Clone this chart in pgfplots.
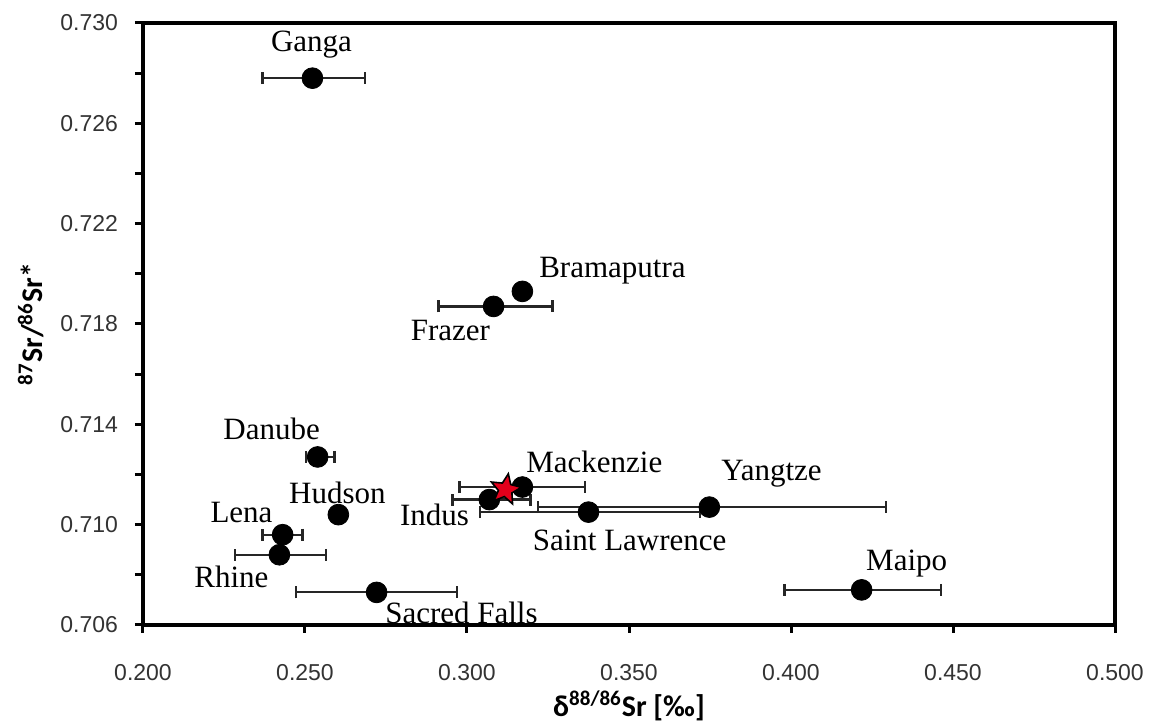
\documentclass[border=0pt]{standalone}
\usepackage{fontspec}
\setmainfont{Liberation Serif}
\newfontfamily\ticksfont{Liberation Sans}
\newfontfamily\labfont{Carlito}
\usepackage{pgfplots}
\pgfplotsset{compat=1.18}
\definecolor{starred}{RGB}{227,0,27}
\newcommand\lf{\fontsize{15.5}{18}\selectfont}
\pgfdeclareplotmark{fstar}{%
  \pgfpathmoveto{\pgfpointpolar{80}{\pgfplotmarksize}}%
  \pgfpathlineto{\pgfpointpolar{116}{0.45\pgfplotmarksize}}%
  \pgfpathlineto{\pgfpointpolar{152}{\pgfplotmarksize}}%
  \pgfpathlineto{\pgfpointpolar{188}{0.45\pgfplotmarksize}}%
  \pgfpathlineto{\pgfpointpolar{224}{\pgfplotmarksize}}%
  \pgfpathlineto{\pgfpointpolar{260}{0.45\pgfplotmarksize}}%
  \pgfpathlineto{\pgfpointpolar{296}{\pgfplotmarksize}}%
  \pgfpathlineto{\pgfpointpolar{332}{0.45\pgfplotmarksize}}%
  \pgfpathlineto{\pgfpointpolar{8}{\pgfplotmarksize}}%
  \pgfpathlineto{\pgfpointpolar{44}{0.45\pgfplotmarksize}}%
  \pgfpathclose
  \pgfusepathqfillstroke
}
\begin{document}
\begin{tikzpicture}
\begin{axis}[
  scale only axis, width=486pt, height=301pt,
  xmin=0.2, xmax=0.5, ymin=0.706, ymax=0.730,
  xtick={0.2,0.25,0.3,0.35,0.4,0.45,0.5},
  ytick={0.706,0.710,0.714,0.718,0.722,0.726,0.730},
  minor ytick={0.708,0.712,0.716,0.720,0.724,0.728},
  tick align=outside, xtick pos=bottom, ytick pos=left,
  major tick length=4pt, minor tick length=4pt,
  axis line style={line width=1.6pt, black},
  tick style={line width=1.5pt, black},
  scaled ticks=false,
  /pgf/number format/assume math mode=true,
  tick label style={font=\ticksfont\fontsize{11.5}{13}\selectfont, text=black!80},
  x tick label style={/pgf/number format/fixed, /pgf/number format/fixed zerofill, /pgf/number format/precision=3, yshift=-12pt},
  y tick label style={/pgf/number format/fixed, /pgf/number format/fixed zerofill, /pgf/number format/precision=3, xshift=-5pt},
  xlabel={\labfont\bfseries\fontsize{15}{18}\selectfont δ\textsuperscript{88/86}Sr [‰]},
  ylabel={\labfont\bfseries\fontsize{15}{18}\selectfont \textsuperscript{87}Sr/\textsuperscript{86}Sr*},
  every axis x label/.style={at={(axis description cs:0.5,0)}, yshift=-40.5pt, anchor=center},
  every axis y label/.style={at={(axis description cs:0,0.5)}, xshift=-56pt, rotate=90, anchor=center},
]
\addplot[only marks, mark=*, mark size=5.2pt, black,
  error bars/.cd, x dir=both, x explicit,
  error bar style={line width=1.1pt, black!85},
  error mark options={rotate=90, mark size=3pt, line width=1.1pt, black!85}]
coordinates {
 (0.2523,0.7278) += (0.0161,0) -= (0.0154,0)
 (0.3082,0.7187) += (0.0182,0) -= (0.0170,0)
 (0.2539,0.7127) += (0.0052,0) -= (0.0037,0)
 (0.2431,0.7096) += (0.0061,0) -= (0.0062,0)
 (0.2421,0.7088) += (0.0145,0) -= (0.0136,0)
 (0.2721,0.7073) += (0.0249,0) -= (0.0248,0)
 (0.3171,0.7115) += (0.0192,0) -= (0.0194,0)
 (0.3069,0.7110) += (0.0127,0) -= (0.0114,0)
 (0.3375,0.7105) += (0.0343,0) -= (0.0336,0)
 (0.3748,0.7107) += (0.0544,0) -= (0.0530,0)
 (0.4218,0.7074) += (0.0246,0) -= (0.0238,0)
};
\addplot[only marks, mark=*, mark size=5.2pt, black]
coordinates {(0.3171,0.7193) (0.2603,0.7104)};
\addplot[only marks, mark=fstar, mark size=8pt, mark options={fill=starred, draw=black, line width=0.8pt}]
coordinates {(0.3119,0.7114)};
\node[font=\lf] at (axis cs:0.2520,0.72912) {Ganga};
\node[font=\lf] at (axis cs:0.3449,0.72011) {Bramaputra};
\node[font=\lf] at (axis cs:0.2949,0.71776) {Frazer};
\node[font=\lf] at (axis cs:0.2397,0.71381) {Danube};
\node[font=\lf] at (axis cs:0.2600,0.71126) {Hudson};
\node[font=\lf] at (axis cs:0.2304,0.71050) {Lena};
\node[font=\lf] at (axis cs:0.2273,0.70791) {Rhine};
\node[font=\lf] at (axis cs:0.2983,0.70648) {Sacred Falls};
\node[font=\lf] at (axis cs:0.3393,0.71250) {Mackenzie};
\node[font=\lf] at (axis cs:0.2900,0.71038) {Indus};
\node[font=\lf] at (axis cs:0.3502,0.70939) {Saint Lawrence};
\node[font=\lf] at (axis cs:0.3940,0.71202) {Yangtze};
\node[font=\lf] at (axis cs:0.4357,0.70847) {Maipo};
\end{axis}
\pgfresetboundingbox
\path[use as bounding box] ([xshift=-71.5pt,yshift=-51pt]current axis.south west) rectangle ([xshift=18.5pt,yshift=11.5pt]current axis.north east);
\end{tikzpicture}
\end{document}
